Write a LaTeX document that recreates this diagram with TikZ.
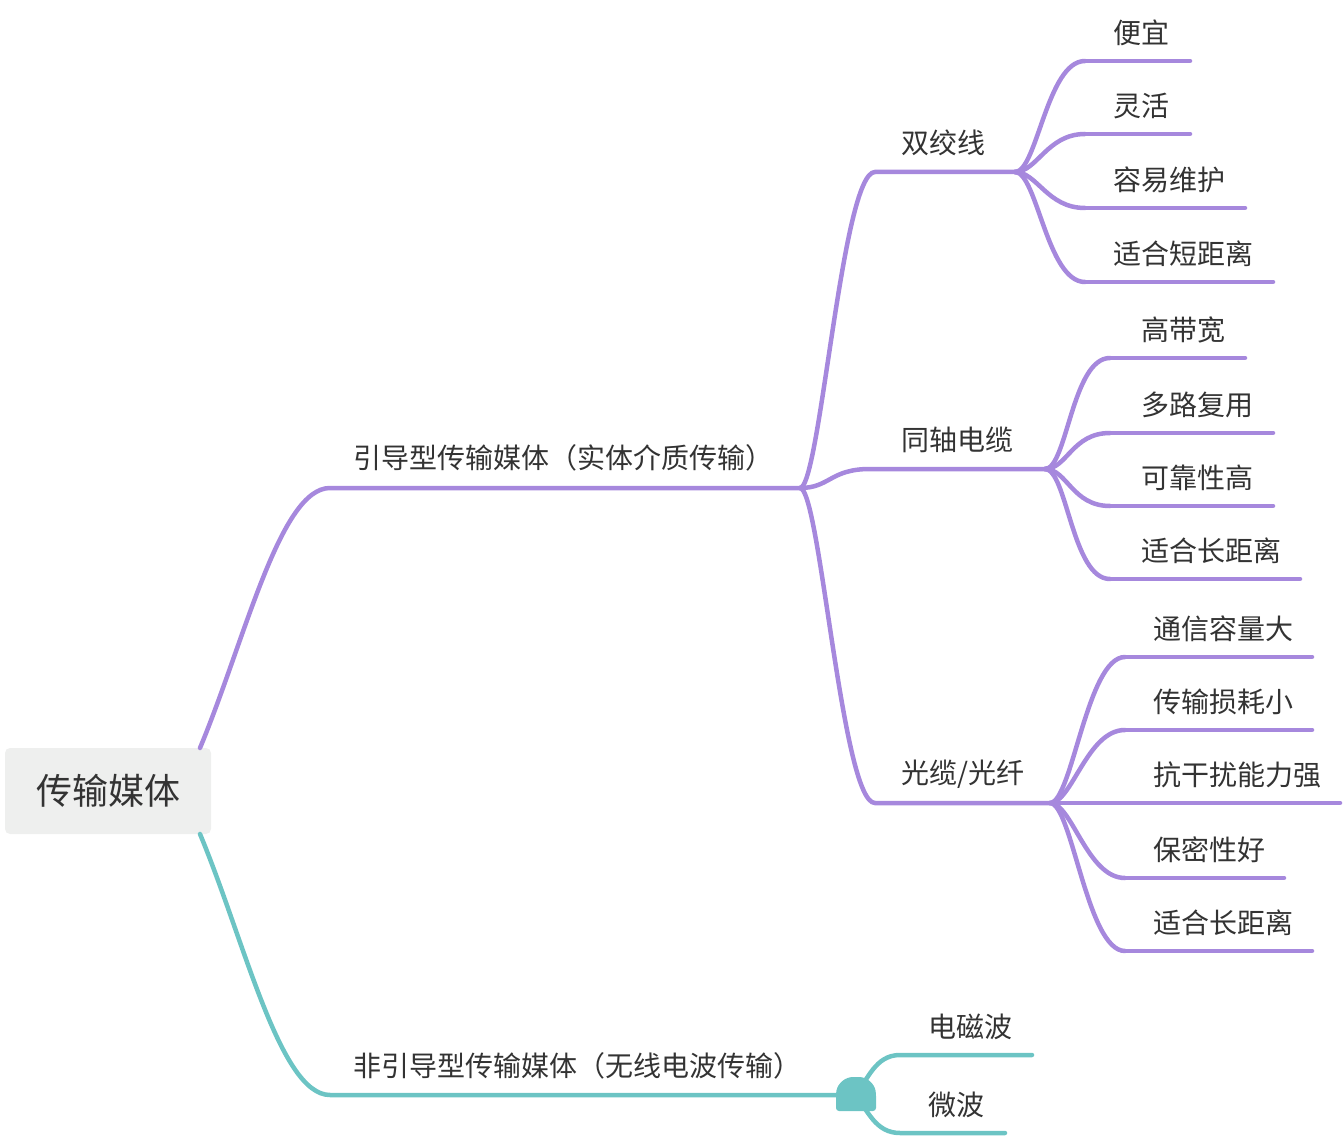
\documentclass[tikz,border=0pt]{standalone}
\usepackage{fontspec}
\setmainfont{Noto Sans CJK SC}
\usetikzlibrary{calc}
\definecolor{mapPurple}{HTML}{A688DD}
\definecolor{mapTeal}{HTML}{6CC4C4}
\definecolor{mapText}{HTML}{333333}
\definecolor{mapRoot}{HTML}{EEEFEE}
% curved twig from a hub to the start of a topic line
\newcommand{\twig}[3]{\draw[br,#1] (#2) .. controls ($(#2)+(22,0)$) and ($(#3)-(38,0)$) .. (#3);}

\begin{document}
\begin{tikzpicture}[x=1pt,y=-1pt,
        lbl/.style={anchor=west,inner sep=0pt,text=mapText,font=\fontsize{28}{31}\selectfont},
        br/.style={line width=4.5pt,line cap=round},
        rootbox/.style={fill=mapRoot,rounded corners=5pt,minimum width=206pt,minimum height=86pt,
                        inner sep=0pt,text=mapText,font=\fontsize{36}{40}\selectfont}]
        \useasboundingbox (0,0) rectangle (1344,1139);
        \node[rootbox] (root) at (108,791) {传输媒体};
        % guided media
        \coordinate (g0) at (200,748);
        \coordinate (g1) at (330,488);
        \coordinate (g2) at (800,488);
        \node[lbl] (g) at (353,458) {引导型传输媒体（实体介质传输）};
        \draw[br,mapPurple] (g0) .. controls (245,640) and (280,488) .. (g1) -- (g2);
        % unguided media
        \coordinate (u0) at (200,834);
        \coordinate (u1) at (330,1095);
        \coordinate (u2) at (855,1095);
        \node[lbl] (u) at (353,1066) {非引导型传输媒体（无线电波传输）};
        \draw[br,mapTeal] (u0) .. controls (245,942) and (280,1095) .. (u1) -- (u2);
        % second level
        \coordinate (tp1) at (875,172);  \coordinate (tp2) at (1015,172);
        \coordinate (cx1) at (870,469);  \coordinate (cx2) at (1045,469);
        \coordinate (fo1) at (875,803);  \coordinate (fo2) at (1050,803);
        \node[lbl] (tp) at (901,143) {双绞线};
        \node[lbl] (cx) at (901,440) {同轴电缆};
        \node[lbl] (fo) at (901,774) {光缆/光纤};
        \draw[br,mapPurple] (g2) .. controls (820,488) and (842,172) .. (tp1) -- (tp2);
        \draw[br,mapPurple] (g2) .. controls (830,488) and (830,469) .. (cx1) -- (cx2);
        \draw[br,mapPurple] (g2) .. controls (820,488) and (842,803) .. (fo1) -- (fo2);
        % twisted pair
        \foreach \n/\y/\xe/\t in {a/61/1190/便宜,b/134/1190/灵活,c/208/1245/容易维护,d/282/1273/适合短距离}{
          \coordinate (tp-\n) at (1085,\y);
          \node[lbl] (tpl-\n) at (1113,\y-28) {\t};
          \twig{mapPurple}{tp2}{tp-\n}
          \draw[br,mapPurple] (tp-\n) -- (\xe,\y);
        }
        % coaxial cable
        \foreach \n/\y/\xe/\t in {a/358/1245/高带宽,b/433/1273/多路复用,c/506/1273/可靠性高,d/579/1300/适合长距离}{
          \coordinate (cx-\n) at (1110,\y);
          \node[lbl] (cxl-\n) at (1141,\y-28) {\t};
          \twig{mapPurple}{cx2}{cx-\n}
          \draw[br,mapPurple] (cx-\n) -- (\xe,\y);
        }
        % optical fibre
        \foreach \n/\y/\xe/\t in {a/657/1312/通信容量大,b/730/1312/传输损耗小,d/878/1284/保密性好,e/951/1312/适合长距离}{
          \coordinate (fo-\n) at (1125,\y);
          \node[lbl] (fol-\n) at (1153,\y-28) {\t};
          \twig{mapPurple}{fo2}{fo-\n}
          \draw[br,mapPurple] (fo-\n) -- (\xe,\y);
        }
        \coordinate (fo-c) at (1340,803);
        \node[lbl] (fol-c) at (1153,775) {抗干扰能力强};
        \draw[br,mapPurple] (fo2) -- (fo-c);
        % wireless
        \coordinate (wl-a) at (900,1055);
        \coordinate (wl-b) at (900,1133);
        \node[lbl] (wll-a) at (928,1027) {电磁波};
        \node[lbl] (wll-b) at (928,1105) {微波};
        \draw[br,mapTeal] (u2) .. controls (868,1080) and (875,1055) .. (wl-a) -- (1032,1055);
        \draw[br,mapTeal] (u2) .. controls (868,1110) and (875,1133) .. (wl-b) -- (1005,1133);
        \fill[mapTeal] (836,1111) [rounded corners=3pt] -- (836,1093) [rounded corners=14pt] -- (839,1077)
          -- (873,1077) [rounded corners=3pt] -- (876,1093) -- (876,1111) -- cycle;
\end{tikzpicture}
\end{document}
